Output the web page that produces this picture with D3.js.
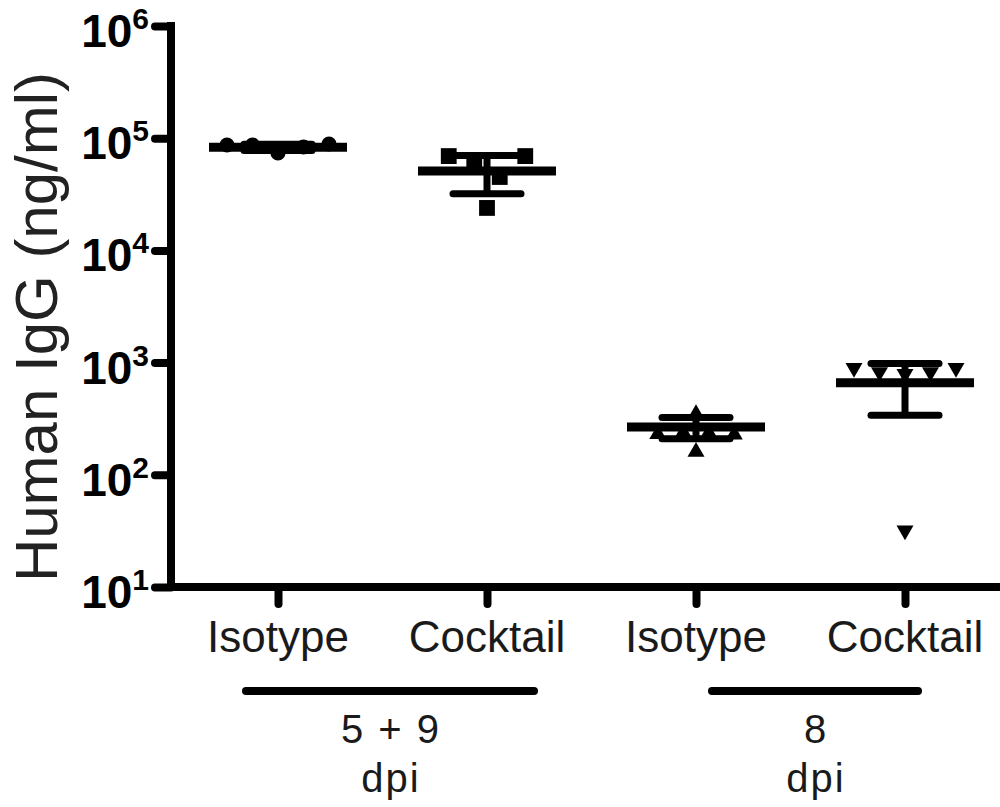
<!DOCTYPE html>
<html lang="en">
<head>
<meta charset="UTF-8">
<title>Human IgG</title>
<script src="https://cdn.jsdelivr.net/npm/d3@7/dist/d3.min.js"></script>
<style>
  body { margin: 0; background: #fff; }
  text { font-family: "Liberation Sans", Arial, Helvetica, sans-serif; fill: #1a1a1a; }
</style>
</head>
<body>
<div id="container"></div>
<script>
// data
let categories = ['iso59', 'cock59', 'iso8', 'cock8'];
let tickLabels = ['Isotype', 'Cocktail', 'Isotype', 'Cocktail'];
let symbolTypes = ['circle', 'square', 'triangle', 'triangleDown'];

let isotype59 = [87000, 87000, 73800, 83500, 88800];
let cocktail59 = [69300, 61400, 45100, 69300, 23900];
let isotype8 = [348, 230, 238, 236, 228, 160];
let cocktail8 = [895, 824, 791, 824, 895, 32];
let points = [isotype59, cocktail59, isotype8, cocktail8];

let means = [83000, 51000, 267, 660];
let sds = [5500, 19000, 57, 320];

let yTicks = [1e1, 1e2, 1e3, 1e4, 1e5, 1e6];
let groups = [
  { label: '5 + 9', sub: 'dpi', from: 'iso59', to: 'cock59' },
  { label: '8', sub: 'dpi', from: 'iso8', to: 'cock8' }
];

let svg = d3.select('#container')
  .append('svg')
  .attr('width', 1000)
  .attr('height', 807);

let axisX = 171, axisY = 587;

let x = d3.scalePoint().domain(categories).range([278, 905]);
let y = d3.scaleLog().domain([10, 1e6]).range([587, 26]);

// y axis
let yAxis = svg.append('g')
  .attr('transform', 'translate(' + axisX + ',0)')
  .call(d3.axisLeft(y).tickValues(yTicks).tickSize(16).tickSizeOuter(0).tickFormat(''));
yAxis.select('.domain').remove();
yAxis.selectAll('.tick line').attr('stroke', '#000').attr('stroke-width', 8).attr('stroke-linecap', 'round');
yAxis.append('line')
  .attr('x1', 0).attr('x2', 0)
  .attr('y1', y(1e6) - 4).attr('y2', y(10) + 4)
  .attr('stroke', '#000').attr('stroke-width', 8);

// tick labels 10^n
let yl = svg.append('g');
yTicks.forEach(function (t) {
  let exp = Math.round(Math.log10(t));
  let g = yl.append('text')
    .attr('x', 149)
    .attr('y', y(t) + 21)
    .attr('text-anchor', 'end')
    .style('font-weight', 'bold')
    .style('font-size', '46px')
    .style('fill', '#000');
  g.append('tspan').text('10');
  g.append('tspan')
    .attr('dy', -18)
    .style('font-size', '30px')
    .text(exp);
});

// x axis
let xAxis = svg.append('g')
  .attr('transform', 'translate(0,' + axisY + ')')
  .call(d3.axisBottom(x).tickSize(17).tickFormat(''));
xAxis.select('.domain').remove();
xAxis.selectAll('.tick line').attr('stroke', '#000').attr('stroke-width', 8).attr('stroke-linecap', 'round');
xAxis.append('line')
  .attr('x1', axisX - 4).attr('x2', 1000)
  .attr('y1', 0).attr('y2', 0)
  .attr('stroke', '#000').attr('stroke-width', 8);

svg.selectAll('.xlab')
  .data(categories)
  .enter()
  .append('text')
  .attr('class', 'xlab')
  .attr('x', d => x(d))
  .attr('y', 652)
  .attr('text-anchor', 'middle')
  .style('font-size', '44px')
  .text((d, i) => tickLabels[i]);

// y title
svg.append('text')
  .attr('transform', 'translate(57,' + 327 + ') rotate(-90)')
  .attr('text-anchor', 'middle')
  .style('font-size', '60px')
  .style('fill', '#222')
  .text('Human IgG (ng/ml)');

// arrange points into rows like a scatter dot plot
function layout(vals) {
  let idx = vals.map((v, i) => i).sort((a, b) => vals[b] - vals[a]);
  let rows = [], cur = [];
  idx.forEach(function (i) {
    if (cur.length && Math.abs(y(vals[i]) - y(vals[cur[cur.length - 1]])) > 16) {
      rows.push(cur); cur = [];
    }
    cur.push(i);
  });
  if (cur.length) rows.push(cur);
  let off = [];
  rows.forEach(function (r) {
    r.sort((a, b) => a - b);
    r.forEach(function (i, j) { off[i] = (j - (r.length - 1) / 2) * 25.5; });
  });
  return vals.map((v, i) => ({ v: v, dx: off[i] }));
}

let symbolMap = {
  circle: d3.symbol().type(d3.symbolCircle).size(180),
  square: d3.symbol().type(d3.symbolSquare).size(250),
  triangle: d3.symbol().type(d3.symbolTriangle).size(125),
  triangleDown: d3.symbol().type(d3.symbolTriangle).size(125)
};

categories.forEach(function (c, gi) {
  let g = svg.append('g');
  let type = symbolTypes[gi];
  g.selectAll('path')
    .data(layout(points[gi]))
    .enter()
    .append('path')
    .attr('d', symbolMap[type]())
    .attr('transform', d => 'translate(' + (x(c) + d.dx) + ',' + y(d.v) + ')' + (type === 'triangleDown' ? ' rotate(180)' : ''))
    .attr('fill', '#000');

  let cx = x(c), m = means[gi], s = sds[gi];
  // vertical error bar
  g.append('line')
    .attr('x1', cx).attr('x2', cx)
    .attr('y1', y(m + s)).attr('y2', y(m - s))
    .attr('stroke', '#000').attr('stroke-width', 7);
  // caps
  [m + s, m - s].forEach(function (v) {
    g.append('line')
      .attr('x1', cx - 34).attr('x2', cx + 34)
      .attr('y1', y(v)).attr('y2', y(v))
      .attr('stroke', '#000').attr('stroke-width', 7).attr('stroke-linecap', 'round');
  });
  // mean line
  g.append('line')
    .attr('x1', cx - 69).attr('x2', cx + 69)
    .attr('y1', y(m)).attr('y2', y(m))
    .attr('stroke', '#000').attr('stroke-width', 9);
});

// group bars and labels
groups.forEach(function (gr, i) {
  let x1 = i === 0 ? x(gr.from) - 32 : x(gr.from) + 16;
  let x2 = i === 0 ? x(gr.to) + 47 : x(gr.to) + 13;
  svg.append('line')
    .attr('x1', x1).attr('x2', x2)
    .attr('y1', 691).attr('y2', 691)
    .attr('stroke', '#000').attr('stroke-width', 8).attr('stroke-linecap', 'round');
  let mid = (x1 + x2) / 2;
  svg.append('text')
    .attr('x', mid).attr('y', 743)
    .attr('text-anchor', 'middle')
    .style('font-size', '40px')
    .style('word-spacing', '4px')
    .text(gr.label);
  svg.append('text')
    .attr('x', mid + 1).attr('y', 792)
    .attr('text-anchor', 'middle')
    .style('font-size', '40px')
    .style('letter-spacing', '2px')
    .text(gr.sub);
});
</script>
</body>
</html>
